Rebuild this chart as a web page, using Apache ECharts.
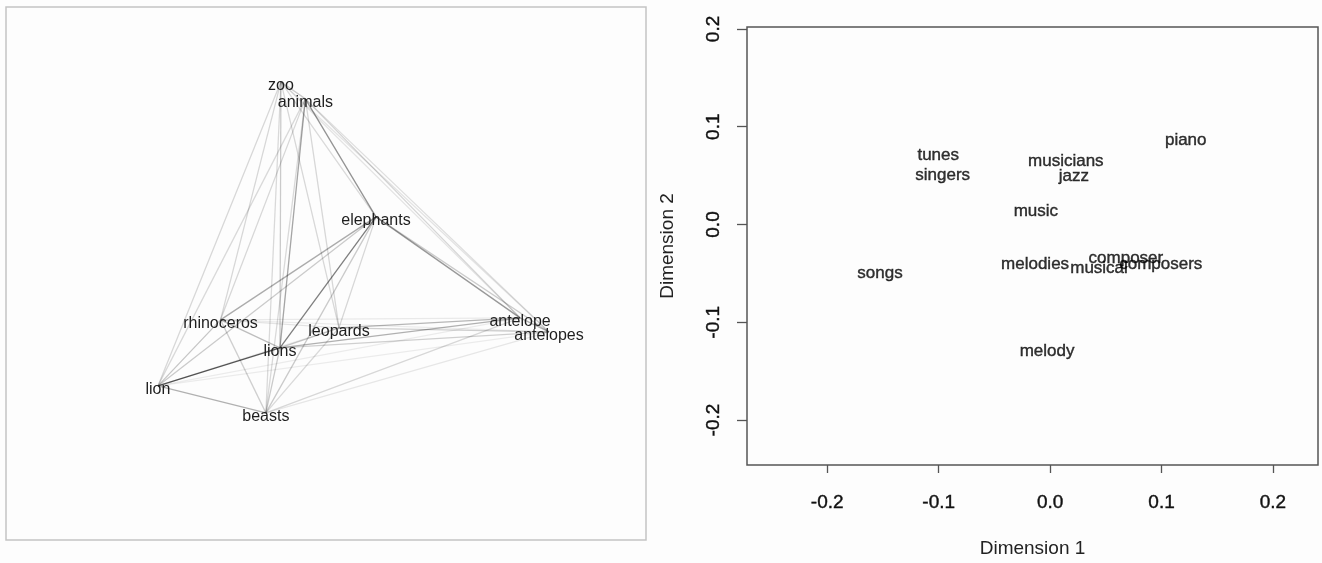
<!DOCTYPE html>
<html>
<head>
<meta charset="utf-8">
<script src="https://cdn.jsdelivr.net/npm/echarts@6/dist/echarts.min.js"></script>
<style>
  html, body { margin: 0; padding: 0; background: #fdfdfd; }
  #chart { width: 1322px; height: 563px; }
</style>
</head>
<body>
<div id="chart"></div>
<script>
// left panel: word network (layout coords normalised to [-1, 1])
const nodeNames = ['zoo', 'animals', 'elephants', 'rhinoceros', 'leopards', 'lions', 'lion', 'beasts', 'antelope', 'antelopes'];
const nodeX = [-0.371, -0.246, 0.115, -0.680, -0.074, -0.376, -1.0, -0.448, 0.852, 1.0];
const nodeY = [1.025, 0.922, 0.209, -0.413, -0.461, -0.582, -0.812, -0.975, -0.401, -0.486];

const edgeSource = [
  'lion', 'elephants', 'animals', 'elephants', 'animals', 'rhinoceros', 'lions', 'leopards', 'lion', 'lion',
  'lion', 'rhinoceros', 'rhinoceros', 'lions', 'beasts', 'beasts', 'beasts', 'beasts', 'zoo', 'zoo',
  'zoo', 'zoo', 'zoo', 'zoo', 'zoo', 'zoo', 'zoo', 'animals', 'animals', 'animals',
  'animals', 'animals', 'animals', 'elephants', 'elephants', 'rhinoceros', 'rhinoceros', 'rhinoceros', 'leopards', 'leopards',
  'lions', 'lion', 'lion', 'lion', 'antelope'
];
const edgeTarget = [
  'lions', 'lions', 'elephants', 'antelope', 'lions', 'elephants', 'antelope', 'antelope', 'beasts', 'rhinoceros',
  'elephants', 'lions', 'beasts', 'beasts', 'elephants', 'leopards', 'antelope', 'antelopes', 'lion', 'rhinoceros',
  'lions', 'beasts', 'leopards', 'animals', 'elephants', 'antelope', 'antelopes', 'lion', 'rhinoceros', 'beasts',
  'leopards', 'antelope', 'antelopes', 'leopards', 'antelopes', 'antelope', 'antelopes', 'leopards', 'lions', 'antelopes',
  'antelopes', 'leopards', 'antelope', 'antelopes', 'antelopes'
];
const edgeWeight = [
  0.65, 0.5, 0.42, 0.4, 0.35, 0.32, 0.3, 0.28, 0.3, 0.22,
  0.2, 0.25, 0.18, 0.2, 0.2, 0.14, 0.15, 0.09, 0.15, 0.15,
  0.2, 0.14, 0.15, 0.2, 0.14, 0.1, 0.1, 0.14, 0.15, 0.14,
  0.15, 0.16, 0.12, 0.15, 0.2, 0.08, 0.07, 0.1, 0.2, 0.18,
  0.18, 0.08, 0.07, 0.07, 0.3
];

// right panel: MDS of music words
const wordNames = ['piano', 'tunes', 'singers', 'musicians', 'jazz', 'music', 'melodies', 'composer', 'composers', 'musical', 'songs', 'melody'];
const wordX = [0.1217, -0.1004, -0.0964, 0.0141, 0.0213, -0.0128, -0.0135, 0.068, 0.0993, 0.0439, -0.1527, -0.0027];
const wordY = [0.0859, 0.0712, 0.0503, 0.0644, 0.0497, 0.0132, -0.0406, -0.0345, -0.0406, -0.0449, -0.0498, -0.1294];

const xTicks = [-0.2, -0.1, 0.0, 0.1, 0.2];
const yTicks = [-0.2, -0.1, 0.0, 0.1, 0.2];

const font = "'Liberation Sans', Arial, sans-serif";

const chart = echarts.init(document.getElementById('chart'), null, { renderer: 'canvas' });

const nodes = nodeNames.map((n, i) => ({ name: n, value: [nodeX[i], nodeY[i]] }));
const links = edgeSource.map((s, i) => ({
  source: s,
  target: edgeTarget[i],
  lineStyle: { color: '#000', opacity: edgeWeight[i], width: 1.3 }
}));

const tickLabel = { fontFamily: font, fontSize: 19, color: '#111', textBorderColor: '#111', textBorderWidth: 0.4 };
const fmt = v => (Math.abs(v) < 1e-9 ? 0 : v).toFixed(1);

chart.setOption({
  backgroundColor: '#fdfdfd',
  animation: false,
  grid: [
    { left: 6, top: 7, width: 640, height: 533, show: true, borderColor: '#c4c4c4', borderWidth: 1.5, backgroundColor: 'transparent' },
    { left: 747, top: 27, width: 571, height: 439, show: true, borderColor: '#555', borderWidth: 1.5, backgroundColor: 'transparent' }
  ],
  xAxis: [
    { gridIndex: 0, type: 'value', min: -1.777, max: 1.496, show: false },
    {
      gridIndex: 1, type: 'value', min: -0.272, max: 0.2404,
      axisLine: { show: false, onZero: false },
      splitLine: { show: false },
      axisTick: { show: true, length: 8, inside: false, lineStyle: { color: '#555', width: 1.3 }, customValues: xTicks },
      axisLabel: { ...tickLabel, margin: 28, customValues: xTicks, formatter: fmt },
      name: 'Dimension 1', nameLocation: 'middle', nameGap: 74,
      nameTextStyle: { fontFamily: font, fontSize: 19, color: '#222' }
    }
  ],
  yAxis: [
    { gridIndex: 0, type: 'value', min: -1.743, max: 1.477, show: false },
    {
      gridIndex: 1, type: 'value', min: -0.246, max: 0.202,
      axisLine: { show: false, onZero: false },
      splitLine: { show: false },
      axisTick: { show: true, length: 10, inside: false, lineStyle: { color: '#555', width: 1.3 }, customValues: yTicks },
      axisLabel: { ...tickLabel, margin: 24, rotate: 90, customValues: yTicks, formatter: fmt },
      name: 'Dimension 2', nameLocation: 'middle', nameGap: 70, nameRotate: 90,
      nameTextStyle: { fontFamily: font, fontSize: 19, color: '#222' }
    }
  ],
  series: [
    {
      type: 'graph',
      coordinateSystem: 'cartesian2d',
      xAxisIndex: 0,
      yAxisIndex: 0,
      layout: 'none',
      symbolSize: 0,
      data: nodes,
      links: links,
      label: {
        show: true, position: 'inside', offset: [0, 4],
        fontFamily: font, fontSize: 16, color: '#1e1e1e',
        formatter: p => p.name
      },
      emphasis: { disabled: true },
      z: 2
    },
    {
      type: 'scatter',
      xAxisIndex: 1,
      yAxisIndex: 1,
      symbolSize: 0,
      data: wordNames.map((n, i) => ({ name: n, value: [wordX[i], wordY[i]] })),
      label: {
        show: true, position: 'inside',
        fontFamily: font, fontSize: 17, color: '#000',
        textBorderColor: '#000', textBorderWidth: 0.4,
        formatter: p => p.name
      },
      emphasis: { disabled: true }
    }
  ]
});
</script>
</body>
</html>
